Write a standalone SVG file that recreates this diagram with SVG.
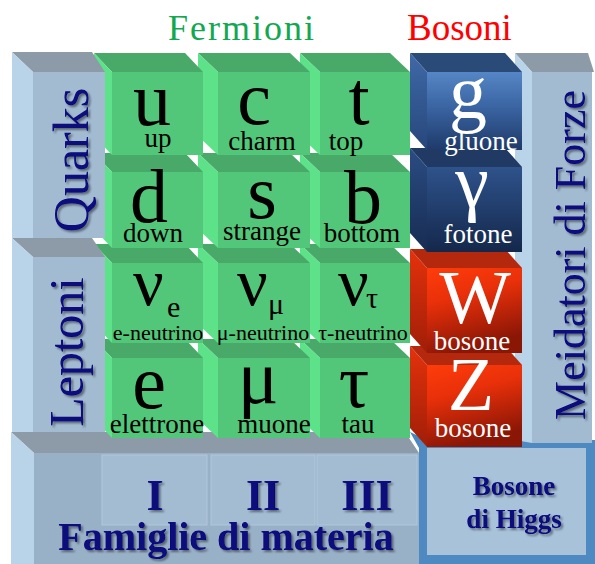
<svg xmlns="http://www.w3.org/2000/svg" width="595" height="564" viewBox="0 0 595 564">
<defs>
<style>
.ser{font-family:"Liberation Serif","Times New Roman",serif}
.gt{fill:#48a968}.gs{fill:#5de28a}.gf{fill:#52c779}
.bt{fill:#8d9ba8}.bs{fill:#b9d3e8}.bf{fill:#a2bbd1}
.sym{font-family:"Liberation Serif","Times New Roman",serif;font-size:76px;text-anchor:middle;fill:#000}
.lab{font-family:"Liberation Serif","Times New Roman",serif;font-size:27px;text-anchor:middle;fill:#000}
.neu{font-size:22px}
.w{fill:#fff}
.navy{font-family:"Liberation Serif","Times New Roman",serif;fill:#07077c}
</style>
<filter id="sh" x="-10%" y="-10%" width="130%" height="130%">
<feGaussianBlur in="SourceAlpha" stdDeviation="1.2"/>
<feOffset dx="2" dy="2" result="o"/>
<feFlood flood-color="#000" flood-opacity="0.45"/>
<feComposite in2="o" operator="in"/>
<feMerge><feMergeNode/><feMergeNode in="SourceGraphic"/></feMerge>
</filter>
<linearGradient id="gB1" x1="0" y1="0" x2="0" y2="1"><stop offset="0" stop-color="#5686c6"/><stop offset="0.45" stop-color="#3a64a2"/><stop offset="1" stop-color="#1e3a69"/></linearGradient>
<linearGradient id="gB1s" x1="0" y1="0" x2="0" y2="1"><stop offset="0" stop-color="#3f69a6"/><stop offset="1" stop-color="#27477c"/></linearGradient>
<linearGradient id="gB2" x1="0" y1="0" x2="0" y2="1"><stop offset="0" stop-color="#2e528b"/><stop offset="1" stop-color="#14284b"/></linearGradient>
<linearGradient id="gB2s" x1="0" y1="0" x2="0" y2="1"><stop offset="0" stop-color="#2b4c83"/><stop offset="1" stop-color="#172c52"/></linearGradient>
<linearGradient id="gR" x1="0" y1="0" x2="0.3" y2="1"><stop offset="0" stop-color="#ff3c0a"/><stop offset="0.4" stop-color="#e8300a"/><stop offset="1" stop-color="#8a1606"/></linearGradient>
<linearGradient id="gRs" x1="0" y1="0" x2="0" y2="1"><stop offset="0" stop-color="#e4320c"/><stop offset="1" stop-color="#a01e08"/></linearGradient>
</defs>
<rect width="595" height="564" fill="#fff"/>

<g id="headers">
<text class="ser" x="168" y="40" font-size="36" letter-spacing="2" fill="#12a852">Fermioni</text>
<text class="ser" x="407" y="40" font-size="37" fill="#ff0000">Bosoni</text>
</g>

<g id="famiglie">
<polygon class="bt" points="11,432 405,432 419,453 34,453"/>
<polygon class="bs" points="11,432 34,453 34,564 11,564"/>
<rect x="34" y="453" width="385" height="111" fill="#99b1c7"/>
<rect x="102" y="455" width="105" height="70" fill="#a3bcd2" stroke="#b0c7dc" stroke-width="1"/>
<rect x="211" y="455" width="104" height="70" fill="#a3bcd2" stroke="#b0c7dc" stroke-width="1"/>
<rect x="317" y="455" width="100" height="70" fill="#a3bcd2" stroke="#b0c7dc" stroke-width="1"/>
<g filter="url(#sh)" font-weight="bold">
<text class="navy" x="155" y="510" font-size="44" text-anchor="middle">I</text>
<text class="navy" x="263" y="510" font-size="44" text-anchor="middle">II</text>
<text class="navy" x="367" y="510" font-size="44" text-anchor="middle">III</text>
<text class="navy" x="226" y="550" font-size="40" text-anchor="middle">Famiglie di materia</text>
</g>
</g>

<g id="higgs">
<polygon points="410,432 427,440 427,448 419,448" fill="#4a86c0"/>
<rect x="419" y="440" width="176" height="124" fill="#4f89c2"/>
<rect x="427" y="448" width="159" height="107" fill="#a8c2da"/>
<g filter="url(#sh)" font-weight="bold">
<text class="navy" x="514" y="495" font-size="27" text-anchor="middle">Bosone</text>
<text class="navy" x="514" y="528" font-size="27" text-anchor="middle">di Higgs</text>
</g>
</g>

<g id="mediatori">
<polygon class="bt" points="515,53 588,53 594,72 532,72"/>
<polygon class="bs" points="515,53 532,72 532,443 515,440"/>
<rect class="bf" x="532" y="72" width="60" height="371"/>
<g filter="url(#sh)">
<text class="navy" transform="translate(585,255) rotate(-90)" font-size="44" text-anchor="middle">Meidatori di Forze</text>
</g>
</g>

<!-- row 4 -->
<g id="Z">
<polygon points="410,346 505,346 522,365 427,365" fill="#b4280e"/>
<polygon points="410,346 427,365 427,447 410,428" fill="url(#gRs)"/>
<rect x="427" y="365" width="95" height="82" fill="url(#gR)"/>
<text class="sym w" x="471" y="410" font-size="62">Z</text>
<text class="lab w" x="473" y="437" font-size="25">bosone</text>
</g>
<g id="tau">
<polygon class="gt" points="300,339 390,339 410,358 320,358"/>
<polygon class="gs" points="300,339 320,358 320,438 300,419"/>
<rect class="gf" x="320" y="358" width="90" height="80"/>
<text class="sym" x="354" y="407">τ</text>
<text class="lab" x="358" y="433">tau</text>
</g>
<g id="muon">
<polygon class="gt" points="198,339 290,339 310,358 218,358"/>
<polygon class="gs" points="198,339 218,358 218,438 198,419"/>
<rect class="gf" x="218" y="358" width="92" height="80"/>
<text class="sym" x="258" y="403">μ</text>
<text class="lab" x="274" y="433">muone</text>
</g>
<g id="electron">
<polygon class="gt" points="94,339 185,339 203,358 112,358"/>
<polygon class="gs" points="94,339 112,358 112,438 94,419"/>
<rect class="gf" x="112" y="358" width="91" height="80"/>
<text class="sym" x="149" y="408">e</text>
<text class="lab" x="157" y="433">elettrone</text>
</g>

<!-- row 3 -->
<g id="W">
<polygon points="410,249 505,249 522,268 427,268" fill="#b4280e"/>
<polygon points="410,249 427,268 427,353 410,334" fill="url(#gRs)"/>
<rect x="427" y="268" width="95" height="85" fill="url(#gR)"/>
<text class="sym w" x="475" y="323" font-size="62">W</text>
<text class="lab w" x="472" y="350" font-size="25">bosone</text>
</g>
<g id="nu-tau">
<polygon class="gt" points="300,244 390,244 410,263 320,263"/>
<polygon class="gs" points="300,244 320,263 320,343 300,324"/>
<rect class="gf" x="320" y="263" width="90" height="80"/>
<text class="ser" x="338" y="305" font-size="68">ν</text>
<text class="ser" x="366" y="308" font-size="30">τ</text>
<text class="lab neu" x="363" y="340">τ-neutrino</text>
</g>
<g id="nu-mu">
<polygon class="gt" points="198,244 290,244 310,263 218,263"/>
<polygon class="gs" points="198,244 218,263 218,343 198,324"/>
<rect class="gf" x="218" y="263" width="92" height="80"/>
<text class="ser" x="237" y="305" font-size="68">ν</text>
<text class="ser" x="268" y="314" font-size="30">μ</text>
<text class="lab neu" x="263" y="340">μ-neutrino</text>
</g>
<g id="nu-e">
<polygon class="gt" points="94,244 185,244 203,263 112,263"/>
<polygon class="gs" points="94,244 112,263 112,343 94,324"/>
<rect class="gf" x="112" y="263" width="91" height="80"/>
<text class="ser" x="133" y="305" font-size="68">ν</text>
<text class="ser" x="167" y="317" font-size="30">e</text>
<text class="lab neu" x="158" y="340">e-neutrino</text>
</g>

<!-- row 2 -->
<g id="photon">
<polygon points="410,148 505,148 522,167 427,167" fill="#203a63"/>
<polygon points="410,148 427,167 427,252 410,233" fill="url(#gB2s)"/>
<rect x="427" y="167" width="95" height="85" fill="url(#gB2)"/>
<text class="sym w" x="472" y="207">γ</text>
<text class="lab w" x="478" y="243">fotone</text>
</g>
<g id="bottom">
<polygon class="gt" points="300,153 390,153 410,172 320,172"/>
<polygon class="gs" points="300,153 320,172 320,248 300,229"/>
<rect class="gf" x="320" y="172" width="90" height="76"/>
<text class="sym" x="363" y="223">b</text>
<text class="lab" x="362" y="242">bottom</text>
</g>
<g id="strange">
<polygon class="gt" points="198,153 290,153 310,172 218,172"/>
<polygon class="gs" points="198,153 218,172 218,248 198,229"/>
<rect class="gf" x="218" y="172" width="92" height="76"/>
<text class="sym" x="262" y="218">s</text>
<text class="lab" x="262" y="240">strange</text>
</g>
<g id="down">
<polygon class="gt" points="94,153 185,153 203,172 112,172"/>
<polygon class="gs" points="94,153 112,172 112,248 94,229"/>
<rect class="gf" x="112" y="172" width="91" height="76"/>
<text class="sym" x="149" y="222">d</text>
<text class="lab" x="153" y="242">down</text>
</g>

<!-- row 1 -->
<g id="gluon">
<polygon points="410,53 505,53 522,72 427,72" fill="#2a4a78"/>
<polygon points="410,53 427,72 427,150 410,131" fill="url(#gB1s)"/>
<rect x="427" y="72" width="95" height="78" fill="url(#gB1)"/>
<text class="sym w" x="468" y="118">g</text>
<text class="lab w" x="481" y="150">gluone</text>
</g>
<g id="top">
<polygon class="gt" points="300,53 390,53 410,72 320,72"/>
<polygon class="gs" points="300,53 320,72 320,155 300,136"/>
<rect class="gf" x="320" y="72" width="90" height="83"/>
<text class="sym" x="359" y="124">t</text>
<text class="lab" x="346" y="150">top</text>
</g>
<g id="charm">
<polygon class="gt" points="198,53 290,53 310,72 218,72"/>
<polygon class="gs" points="198,53 218,72 218,155 198,136"/>
<rect class="gf" x="218" y="72" width="92" height="83"/>
<text class="sym" x="254" y="124">c</text>
<text class="lab" x="262" y="150">charm</text>
</g>
<g id="up">
<polygon class="gt" points="94,53 185,53 203,72 112,72"/>
<polygon class="gs" points="94,53 112,72 112,155 94,136"/>
<rect class="gf" x="112" y="72" width="91" height="83"/>
<text class="sym" x="152" y="125">u</text>
<text class="lab" x="158" y="147">up</text>
</g>

<g id="quarks">
<polygon class="bt" points="12,52 92,52 105,72 33,72"/>
<polygon class="bs" points="12,52 33,72 33,238 12,238"/>
<rect class="bf" x="33" y="72" width="72" height="166"/>
<g filter="url(#sh)">
<text class="navy" transform="translate(88,160) rotate(-90)" font-size="50" text-anchor="middle">Quarks</text>
</g>
</g>
<g id="leptoni">
<polygon class="bt" points="12,238 92,238 105,257 33,257"/>
<polygon class="bs" points="12,238 33,257 33,432 12,432"/>
<rect class="bf" x="33" y="257" width="72" height="175"/>
<g filter="url(#sh)">
<text class="navy" transform="translate(83,352) rotate(-90)" font-size="48" text-anchor="middle">Leptoni</text>
</g>
</g>

<g id="connectors"/>
</svg>
